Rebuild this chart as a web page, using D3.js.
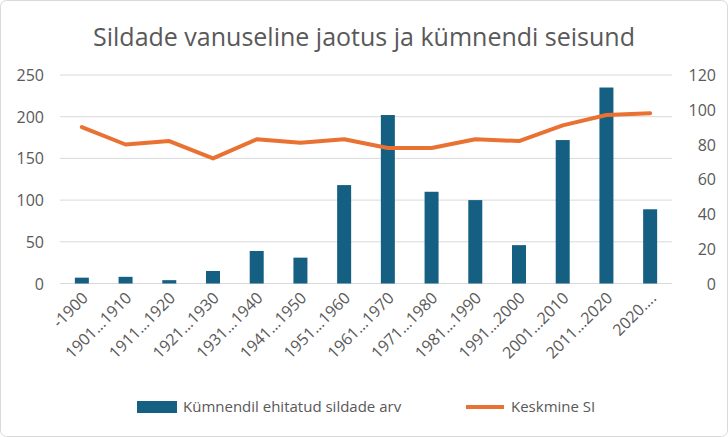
<!DOCTYPE html><html><head><meta charset="utf-8"><script src="https://cdn.jsdelivr.net/npm/d3@7"></script>
<style>body{margin:0;background:#fff}svg{font-family:Aptos,"Open Sans","Liberation Sans",sans-serif}</style></head><body><svg width="728" height="437"></svg><script>
const categories=["-1900","1901…1910","1911…1920","1921…1930","1931…1940","1941…1950","1951…1960","1961…1970","1971…1980","1981…1990","1991…2000","2001…2010","2011…2020","2020…."];
const bridges=[7,8,4,15,39,31,118,202,110,100,46,172,235,89];
const avgSI=[90,80,82,72,83,81,83,78,78,83,82,91,97,98];
const leftTicks=[0,50,100,150,200,250];
const rightTicks=[0,20,40,60,80,100,120];
const svg=d3.select("svg");
svg.append("rect").attr("x",0.5).attr("y",0.5).attr("width",727).attr("height",436).attr("rx",6).attr("fill","#fff").attr("stroke","#d9d9d9");
const L=60,R=672,T=75,B=283.5;
const x=d3.scaleBand().domain(categories).range([L,R]);
const yL=d3.scaleLinear().domain([0,250]).range([B,T]);
const yR=d3.scaleLinear().domain([0,120]).range([B,T]);
svg.append("text").attr("x",364).attr("y",46).attr("text-anchor","middle").attr("font-size",25).attr("fill","#595959").text("Sildade vanuseline jaotus ja kümnendi seisund");
svg.append("g").selectAll("line").data(leftTicks).join("line").attr("x1",L).attr("x2",R).attr("y1",d=>yL(d)).attr("y2",d=>yL(d)).attr("stroke","#d9d9d9");
svg.append("g").selectAll("text").data(leftTicks).join("text").attr("x",44).attr("y",d=>yL(d)+6).attr("text-anchor","end").attr("font-size",16).attr("fill","#595959").text(d=>d);
svg.append("g").selectAll("text").data(rightTicks).join("text").attr("x",716).attr("y",d=>yR(d)+6).attr("text-anchor","end").attr("font-size",16).attr("fill","#595959").text(d=>d);
const bw=14;
svg.append("g").selectAll("rect").data(bridges).join("rect").attr("x",(d,i)=>x(categories[i])+x.bandwidth()/2-bw/2).attr("width",bw).attr("y",d=>yL(d)).attr("height",d=>B-yL(d)).attr("fill","#156082");
svg.append("path").datum(avgSI).attr("fill","none").attr("stroke","#e97132").attr("stroke-width",4).attr("stroke-linejoin","round").attr("stroke-linecap","round")
 .attr("d",d3.line().x((d,i)=>x(categories[i])+x.bandwidth()/2).y(d=>yR(d)));
svg.append("g").selectAll("text").data(categories).join("text").attr("transform",d=>`translate(${x(d)+x.bandwidth()/2+7},${299}) rotate(-45)`).attr("text-anchor","end").attr("font-size",16).attr("fill","#595959").text(d=>d);
svg.append("rect").attr("x",137).attr("y",401).attr("width",40).attr("height",12).attr("fill","#156082");
svg.append("text").attr("x",183).attr("y",412).attr("font-size",15).attr("fill","#595959").text("Kümnendil ehitatud sildade arv");
svg.append("line").attr("x1",466).attr("x2",504).attr("y1",407).attr("y2",407).attr("stroke","#e97132").attr("stroke-width",4);
svg.append("text").attr("x",511).attr("y",412).attr("font-size",15).attr("fill","#595959").text("Keskmine SI");
</script></body></html>
